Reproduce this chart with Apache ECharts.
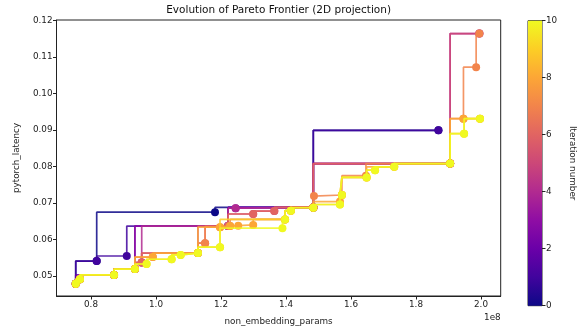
<!DOCTYPE html>
<html><head><meta charset="utf-8">
<script src="https://cdn.jsdelivr.net/npm/echarts@6/dist/echarts.min.js"></script>
<style>html,body{margin:0;padding:0;background:#fff}#c{width:583px;height:332px}</style>
</head><body><div id="c"></div>
<script>
// x in units of 1e8 (non_embedding_params), y = pytorch_latency
const front0 = [[0.753,0.0479],[0.8175,0.0541],[1.1815,0.0675],[1.484,0.0688],[1.869,0.0899]];
const front1 = [[0.753,0.0479],[0.8175,0.0541],[0.910,0.0555],[1.222,0.0637],[1.484,0.0688],[1.869,0.0899]];
const front2 = [[0.753,0.0479],[0.871,0.0503],[0.935,0.0519],[1.222,0.0637],[1.484,0.0688],[1.905,0.0808]];
const front3 = [[0.753,0.0479],[0.766,0.0491],[0.871,0.0503],[0.935,0.0519],[1.222,0.0637],[1.245,0.0686],[1.484,0.0688],[1.905,0.0808]];
const front4 = [[0.753,0.0479],[0.766,0.0491],[0.871,0.0503],[0.935,0.0519],[0.956,0.0537],[1.222,0.0637],[1.245,0.0686],[1.484,0.0688],[1.905,0.0808],[1.995,0.1164]];
const front5 = [[0.753,0.0479],[0.766,0.0491],[0.871,0.0503],[0.935,0.0519],[0.956,0.0537],[1.129,0.0563],[1.222,0.0637],[1.299,0.0670],[1.364,0.0678],[1.484,0.0688],[1.905,0.0808],[1.995,0.1164]];
const front6 = [[0.753,0.0479],[0.766,0.0491],[0.871,0.0503],[0.935,0.0519],[0.956,0.0537],[1.129,0.0563],[1.151,0.0590],[1.222,0.0637],[1.299,0.0670],[1.364,0.0678],[1.484,0.0688],[1.905,0.0808]];
const front7 = [[0.753,0.0479],[0.766,0.0491],[0.871,0.0503],[0.935,0.0519],[0.990,0.0552],[1.129,0.0563],[1.151,0.0590],[1.197,0.0634],[1.228,0.0637],[1.397,0.0655],[1.415,0.0679],[1.484,0.0688],[1.486,0.0719],[1.572,0.0722],[1.646,0.0775],[1.905,0.0808],[1.946,0.0931],[1.985,0.1072],[1.995,0.1164]];
const front8 = [[0.753,0.0479],[0.766,0.0491],[0.871,0.0503],[0.935,0.0519],[0.990,0.0552],[1.129,0.0563],[1.197,0.0634],[1.228,0.0637],[1.253,0.0638],[1.299,0.0640],[1.397,0.0655],[1.415,0.0679],[1.484,0.0688],[1.566,0.0704],[1.572,0.0722],[1.648,0.0770],[1.733,0.0799],[1.905,0.0808],[1.946,0.0931],[1.997,0.0931]];
const front9 = [[0.753,0.0479],[0.766,0.0491],[0.871,0.0503],[0.935,0.0519],[0.971,0.0533],[1.048,0.0546],[1.076,0.0558],[1.129,0.0563],[1.197,0.0579],[1.397,0.0655],[1.415,0.0679],[1.484,0.0687],[1.566,0.0696],[1.572,0.0722],[1.648,0.0770],[1.674,0.0790],[1.733,0.0799],[1.905,0.0808],[1.948,0.0890],[1.997,0.0931]];
const front10 = [[0.753,0.0479],[0.766,0.0491],[0.871,0.0503],[0.935,0.0519],[0.971,0.0533],[1.048,0.0546],[1.076,0.0558],[1.129,0.0563],[1.197,0.0579],[1.389,0.0631],[1.397,0.0655],[1.415,0.0679],[1.484,0.0687],[1.566,0.0696],[1.572,0.0722],[1.648,0.0770],[1.674,0.0790],[1.733,0.0799],[1.905,0.0808],[1.948,0.0890],[1.997,0.0931]];

const iterationColors = ['#0d0887','#41049d','#6a00a8','#8f0da4','#b12a90','#cc4778','#e16462','#f2844b','#fca636','#fcce25','#f0f921'];
const xTicks = [0.8,1.0,1.2,1.4,1.6,1.8,2.0];
const yTicks = [0.05,0.06,0.07,0.08,0.09,0.10,0.11,0.12];
const cbTicks = [0,2,4,6,8,10];
const cbRange = [0,10];

const fronts = [front0,front1,front2,front3,front4,front5,front6,front7,front8,front9,front10];
const FONT = 'DejaVu Sans';
const FS = 8.8;

const chart = echarts.init(document.getElementById('c'), null, {renderer:'canvas'});

const series = fronts.map((f,i)=>({
  type:'line', xAxisIndex:0, yAxisIndex:0, data:f, step:'start',
  symbol:'circle', symbolSize:8, showSymbol:true,
  lineStyle:{color:iterationColors[i], width:1.7, opacity:0.85},
  itemStyle:{color:iterationColors[i], opacity:1},
  emphasis:{disabled:true}, silent:true, animation:false, z:2+i
}));

const stops = iterationColors.map((c,i)=>({offset:1 - i/10, color:c})).reverse();
series.push({
  type:'bar', xAxisIndex:1, yAxisIndex:1, data:[cbRange[1]], barWidth:'100%', silent:true,
  itemStyle:{color:new echarts.graphic.LinearGradient(0,0,0,1,stops)}, animation:false
});

const plotL = 56.5, plotT = 20, plotW = 444.2, plotH = 276;

chart.setOption({
  animation:false,
  backgroundColor:'#fff',
  textStyle:{fontFamily:FONT},
  grid:[
    {left:plotL, top:plotT, width:plotW, height:plotH, show:true, borderColor:'#222', borderWidth:1, containLabel:false},
    {left:528, top:20.7, width:14, height:285, show:true, borderColor:'#222', borderWidth:1, containLabel:false}
  ],
  xAxis:[
    {type:'value', gridIndex:0, min:0.6938, max:2.0606, splitLine:{show:false},
     axisLine:{show:true, onZero:false, lineStyle:{color:'#222', width:1}},
     axisTick:{show:true, inside:false, length:3.5, customValues:xTicks, lineStyle:{color:'#222'}},
     axisLabel:{customValues:xTicks, formatter:v=>v.toFixed(1), fontSize:FS, color:'#222', margin:4, fontFamily:FONT},
     name:'non_embedding_params', nameLocation:'middle', nameGap:21,
     nameTextStyle:{fontSize:FS, color:'#222', fontFamily:FONT}},
    {type:'category', gridIndex:1, data:['cb'], show:false}
  ],
  yAxis:[
    {type:'value', gridIndex:0, min:0.04454, max:0.12012, splitLine:{show:false},
     axisLine:{show:true, onZero:false, lineStyle:{color:'#222', width:1}},
     axisTick:{show:true, inside:false, length:3.5, customValues:yTicks, lineStyle:{color:'#222'}},
     axisLabel:{customValues:yTicks, formatter:v=>v.toFixed(2), fontSize:FS, color:'#222', margin:4, fontFamily:FONT},
     name:'pytorch_latency', nameLocation:'middle', nameGap:35, nameRotate:90,
     nameTextStyle:{fontSize:FS, color:'#222', fontFamily:FONT}},
    {type:'value', gridIndex:1, min:cbRange[0], max:cbRange[1], interval:2, position:'right', splitLine:{show:false},
     axisLine:{show:false},
     axisTick:{show:true, inside:false, length:3.5, lineStyle:{color:'#222'}},
     axisLabel:{fontSize:FS, color:'#222', margin:4, fontFamily:FONT},
     name:'Iteration number', nameLocation:'middle', nameGap:26, nameRotate:-90,
     nameTextStyle:{fontSize:FS, color:'#222', fontFamily:FONT}}
  ],
  graphic:[
    {type:'text', x:plotL+plotW/2, y:10, silent:true,
     style:{text:'Evolution of Pareto Frontier (2D projection)', textAlign:'center', textVerticalAlign:'middle', font:'10.5px "DejaVu Sans"', fill:'#111'}},
    {type:'text', x:plotL+plotW, y:318, silent:true,
     style:{text:'1e8', textAlign:'right', textVerticalAlign:'middle', font:FS+'px "DejaVu Sans"', fill:'#222'}}
  ],
  series:series
});
</script></body></html>
